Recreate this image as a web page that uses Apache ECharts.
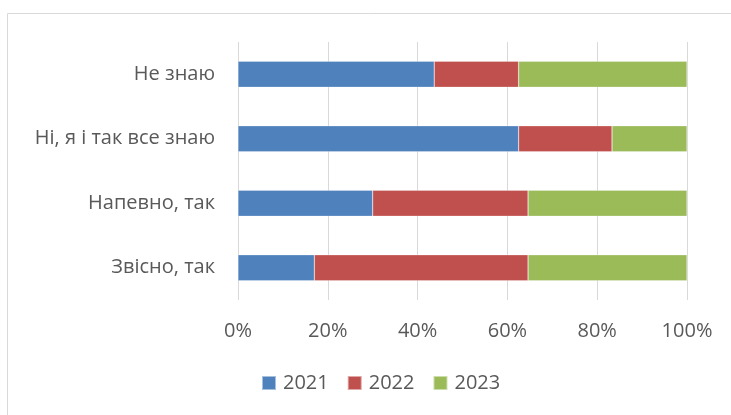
<!DOCTYPE html>
<html>
<head>
<meta charset="utf-8">
<script src="https://cdn.jsdelivr.net/npm/echarts@6/dist/echarts.min.js"></script>
<style>
  html, body { margin: 0; padding: 0; background: #fff; }
  #chart { width: 731px; height: 415px; }
</style>
</head>
<body>
<div id="chart"></div>
<script>
// categories bottom to top (as drawn on the y axis)
const categories = ["Звісно, так", "Напевно, так", "Ні, я і так все знаю", "Не знаю"];
const years = ["2021", "2022", "2023"];
const v2021 = [17.0, 30.0, 62.5, 43.7];
const v2022 = [47.6, 34.6, 20.8, 18.8];
const v2023 = [35.4, 35.4, 16.7, 37.5];
const tickLabels = ["0%", "20%", "40%", "60%", "80%", "100%"];

const colors = ["#4F81BD", "#C0504D", "#9BBB59"];
const font = "'Open Sans', 'Liberation Sans', sans-serif";

const chart = echarts.init(document.getElementById("chart"));
chart.setOption({
  animation: false,
  color: colors,
  textStyle: { fontFamily: font },
  grid: { left: 238, right: 44, top: 42, bottom: 115 },
  graphic: [{
    type: "rect",
    shape: { x: 7.5, y: 13.5, width: 740, height: 420 },
    style: { fill: null, stroke: "#d9d9d9", lineWidth: 1 },
    silent: true
  }],
  legend: {
    bottom: 17,
    left: 256,
    itemWidth: 14,
    itemHeight: 14,
    itemGap: 18,
    icon: "rect",
    textStyle: { fontSize: 20, color: "#595959", fontFamily: font, padding: [0, 0, 0, 2] },
    data: years
  },
  xAxis: {
    type: "value",
    min: 0,
    max: 100,
    interval: 20,
    axisLine: { show: false },
    axisTick: { show: false },
    splitLine: { show: true, lineStyle: { color: "#d9d9d9", width: 1 } },
    axisLabel: {
      fontSize: 20,
      color: "#595959",
      margin: 21,
      formatter: (v) => tickLabels[Math.round(v / 20)]
    }
  },
  yAxis: {
    type: "category",
    data: categories,
    axisLine: { show: false },
    axisTick: { show: false },
    axisLabel: { fontSize: 20, color: "#595959", margin: 23 }
  },
  series: [v2021, v2022, v2023].map((d, i) => ({
    name: years[i],
    type: "bar",
    stack: "total",
    barWidth: 26,
    data: d,
    itemStyle: { borderColor: "rgba(255,255,255,0.5)", borderWidth: 0.5 }
  }))
});
</script>
</body>
</html>
